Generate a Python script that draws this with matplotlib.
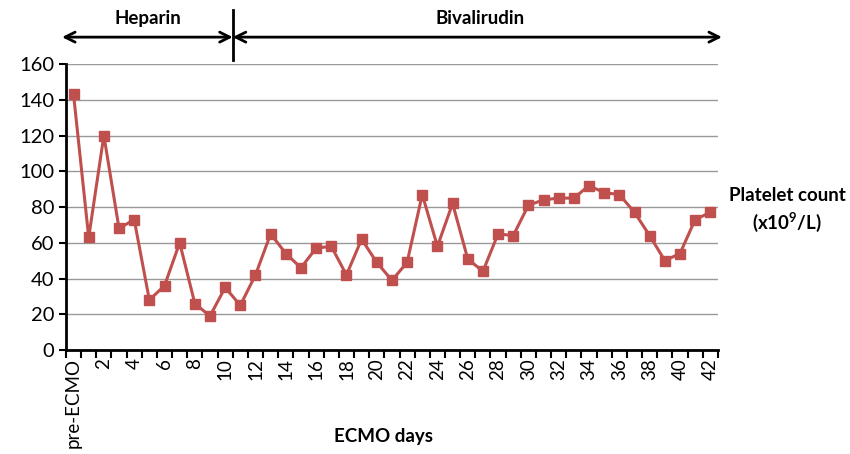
import numpy as np
import matplotlib.pyplot as plt
from matplotlib.ticker import MultipleLocator

# platelet count per ECMO day (pre-ECMO, day 1 .. day 42)
days = ['pre-ECMO'] + [str(d) for d in range(1, 43)]
platelets = [143, 63, 120, 68, 73, 28, 36, 60, 26, 19, 35, 25, 42, 65, 54, 46,
             57, 58, 42, 62, 49, 39, 49, 87, 58, 82, 51, 44, 65, 64, 81, 84,
             85, 85, 92, 88, 87, 77, 64, 50, 54, 73, 77]
switch_day = 10.5  # heparin -> bivalirudin

plt.rcParams['font.family'] = ['Lato', 'DejaVu Sans']
plt.rcParams['mathtext.default'] = 'regular'
fontsize = 13.5

fig = plt.figure(figsize=(8.5, 4.54), dpi=100)
ax = fig.add_axes([0.0776, 0.229, 0.767, 0.630])

x = np.arange(len(days))
ax.plot(x, platelets, color='#C0504D', linewidth=2.2, marker='s', markersize=7.5,
        markerfacecolor='#C0504D', markeredgecolor='#C0504D', zorder=3)

ax.set_xlim(-0.5, len(days) - 0.5)
ax.set_ylim(0, 160)
ax.yaxis.set_major_locator(MultipleLocator(20))
ax.grid(axis='y', color='#999999', linewidth=1)
ax.set_axisbelow(True)

# category axis: labels every second day, ticks between categories
ax.set_xticks(x[::2])
ax.set_xticklabels(days[::2], rotation=90, fontsize=13.5)
ax.set_xticks(np.arange(-0.5, len(days)), minor=True)
ax.tick_params(axis='x', which='major', length=0, pad=6)
ax.tick_params(axis='x', which='minor', length=6, width=1.5, direction='out')
ax.tick_params(axis='y', length=5, width=1.5, labelsize=14.5)

for s in ['top', 'right']:
    ax.spines[s].set_visible(False)
ax.spines['left'].set_linewidth(2)
ax.spines['bottom'].set_linewidth(2)

# treatment periods above the plot
tr = ax.get_xaxis_transform()
arrow = dict(arrowstyle='<->', color='black', lw=2, mutation_scale=18,
             shrinkA=0, shrinkB=0)
ax.annotate('', xy=(-0.76, 1.094), xytext=(switch_day, 1.094), xycoords=tr,
            textcoords=tr, arrowprops=arrow, annotation_clip=False)
ax.annotate('', xy=(switch_day, 1.094), xytext=(42.77, 1.094), xycoords=tr,
            textcoords=tr, arrowprops=arrow, annotation_clip=False)
ax.plot([switch_day, switch_day], [1.014, 1.189], color='black', lw=2,
        transform=tr, clip_on=False)
ax.text(4.9, 1.16, 'Heparin', transform=tr, ha='center', va='center',
        fontsize=fontsize, fontweight='bold')
ax.text(26.8, 1.16, 'Bivalirudin', transform=tr, ha='center', va='center',
        fontsize=fontsize, fontweight='bold')

fig.text(0.451, 0.038, 'ECMO days', ha='center', va='center',
         fontsize=fontsize, fontweight='bold')
fig.text(0.926, 0.57, 'Platelet count', ha='center', va='center',
         fontsize=fontsize, fontweight='bold')
fig.text(0.926, 0.51, r'(x10$^{9}$/L)', ha='center', va='center',
         fontsize=fontsize, fontweight='bold')

plt.savefig('out.png', dpi=100)
